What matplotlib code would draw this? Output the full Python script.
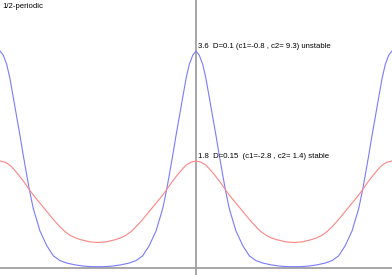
import numpy as np
import matplotlib
matplotlib.use("Agg")
import matplotlib.pyplot as plt

# half period, from a peak (t=0) to a trough (t=0.5)
t_half = np.array([0, 3.3, 6.7, 10, 13.3, 16.7, 20, 23.3, 26.7, 29.3, 33.3,
                   40, 46.7, 53.3, 60, 66.7, 75, 83.3, 91.7, 98]) / 196.0
u_unstable = np.array([3.60, 3.53, 3.38, 3.14, 2.83, 2.51, 2.20, 1.87, 1.55, 1.31,
                       0.99, 0.62, 0.38, 0.21, 0.13, 0.09, 0.06, 0.04, 0.03, 0.03])

t_half2 = np.array([0, 5, 10, 15, 20, 25, 30, 35, 40, 45, 50, 55, 60, 65, 70,
                    75, 80, 85, 90, 98]) / 196.0
u_stable = np.array([1.78, 1.76, 1.71, 1.62, 1.52, 1.41, 1.29, 1.18, 1.08, 0.98,
                     0.88, 0.78, 0.69, 0.61, 0.55, 0.51, 0.48, 0.46, 0.44, 0.43])

label_unstable = "3.6  D=0.1 (c1=-0.8 , c2= 9.3) unstable"
label_stable = "1.8  D=0.15  (c1=-2.8 , c2= 1.4) stable"
title = "1/2-periodic"


def full_wave(t, u):
    # mirror the half period into one period, then repeat over [-1, 1]
    tt = np.concatenate([-t[::-1], t[1:]])
    uu = np.concatenate([u[::-1], u[1:]])
    xs, ys = [], []
    for shift in (-1.0, 0.0, 1.0):
        xs.append(tt + shift)
        ys.append(uu)
    return np.concatenate(xs), np.concatenate(ys)


plt.rcParams['font.family'] = ['Liberation Sans', 'DejaVu Sans']

fig = plt.figure(figsize=(3.92, 2.75), dpi=100)
ax = fig.add_axes([0, 0, 1, 1])

ax.axhline(0, color='#a0a0a0', lw=1.3, zorder=1)
ax.axvline(0, color='#a0a0a0', lw=1.3, zorder=1)

xb, yb = full_wave(t_half, u_unstable)
xr, yr = full_wave(t_half2, u_stable)
ax.plot(xb, yb, color='#7a7aff', lw=0.8, zorder=2)
ax.plot(xr, yr, color='#ff8484', lw=0.8, zorder=2)

ax.annotate(label_unstable, (0, u_unstable[0]), xytext=(1.5, 3.5),
            textcoords='offset points', va='center', ha='left', fontsize=5.6)
ax.annotate(label_stable, (0, u_stable[0]), xytext=(1.5, 3.5),
            textcoords='offset points', va='center', ha='left', fontsize=5.6)
ax.text(0.005, 0.975, title, transform=ax.transAxes, va='center', ha='left', fontsize=5.6)

ax.set_xlim(-1, 1)
ax.set_ylim(-0.108, 4.445)
ax.axis('off')

fig.savefig("out.png", dpi=100)
